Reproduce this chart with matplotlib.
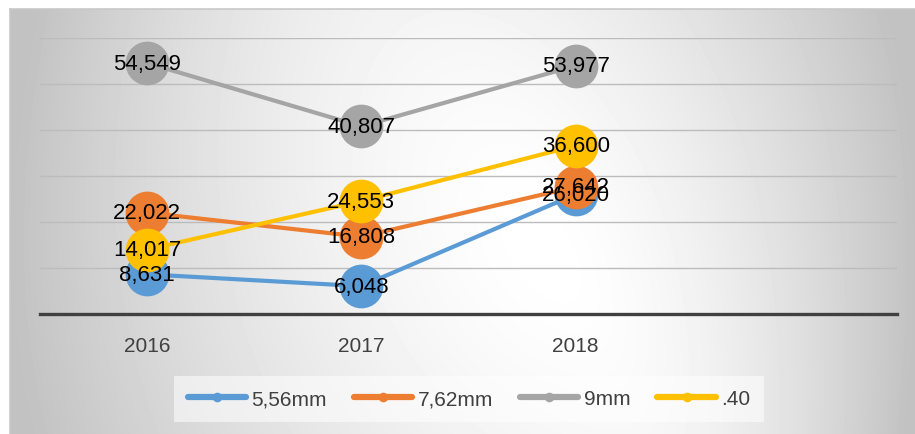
import matplotlib
matplotlib.use("Agg")
import matplotlib.pyplot as plt
import numpy as np

plt.rcParams['font.family'] = ['Liberation Sans', 'DejaVu Sans']

years = ['2016', '2017', '2018', '']
series_names = ['5,56mm', '7,62mm', '9mm', '.40']
v_556 = [8631, 6048, 26020]
v_762 = [22022, 16808, 27642]
v_9mm = [54549, 40807, 53977]
v_40 = [14017, 24553, 36600]
colors = ['#5B9BD5', '#ED7D31', '#A5A5A5', '#FFC000']

W, H = 915, 435
fig = plt.figure(figsize=(W / 100, H / 100), dpi=100)

# background of the chart area (grey at the edges, white band in the middle)
bg = fig.add_axes([10 / W, 0, (W - 10) / W, (H - 10) / H])
xx, yy = np.meshgrid(np.arange(10, W), np.arange(10, H))
cx = 450 + (yy - 10) * 0.4
nx = np.where(xx < cx, (cx - xx) / (cx - 10), (xx - cx) / (W - cx))
ny = (yy - 250) / 700.0
r = np.clip(np.sqrt(nx ** 2 + ny ** 2), 0, 1)
val = 1 - 0.24 * r ** 1.6
bg.imshow(val, cmap='gray', vmin=0, vmax=1, aspect='auto', interpolation='bilinear')
bg.set_xticks([])
bg.set_yticks([])
for s in ['right', 'bottom']:
    bg.spines[s].set_visible(False)
for s in ['top', 'left']:
    bg.spines[s].set_color('#c8c8c8')
    bg.spines[s].set_linewidth(1.2)

ax = fig.add_axes([40 / W, 120 / H, 857 / W, 276 / H])
ax.patch.set_alpha(0)
x = np.arange(len(years))
all_vals = [v_556, v_762, v_9mm, v_40]
for i in range(4):
    vals = all_vals[i]
    ax.plot(x[:len(vals)], vals, color=colors[i], linewidth=3.0, marker='o',
            markersize=31.5, markeredgewidth=0, clip_on=False, zorder=3 + i,
            label=series_names[i], solid_capstyle='round')
for i in range(4):
    vals = all_vals[i]
    for j in range(len(vals)):
        ax.text(x[j], vals[j], '{:,}'.format(vals[j]), ha='center', va='center',
                fontsize=16, color='black', zorder=10)

ax.set_xlim(-0.5, 3.5)
ax.set_ylim(0, 60000)
ax.set_yticks(np.arange(10000, 60001, 10000))
ax.set_yticklabels([])
ax.set_xticks(x)
ax.set_xticklabels(years, fontsize=15, color='#404040')
ax.tick_params(axis='x', length=0, pad=16)
ax.tick_params(axis='y', length=0)
ax.grid(axis='y', color='#bcbcbc', linewidth=1)
ax.set_axisbelow(True)
for s in ['top', 'right', 'left']:
    ax.spines[s].set_visible(False)
ax.spines['bottom'].set_color('#404040')
ax.spines['bottom'].set_linewidth(2.4)
ax.spines['bottom'].set_zorder(2)

handles, labels = ax.get_legend_handles_labels()
leg = fig.legend(handles, labels, loc='center', bbox_to_anchor=(469 / W, 1 - 400 / H),
                 ncol=4, fontsize=15, frameon=True, handlelength=2.8,
                 handletextpad=0.25, columnspacing=1.3, borderpad=0.65,
                 fancybox=False, markerscale=0.22)
leg.get_frame().set_facecolor('white')
leg.get_frame().set_alpha(0.55)
leg.get_frame().set_edgecolor('none')
for t in leg.get_texts():
    t.set_color('#404040')
for h in leg.legend_handles:
    h.set_linewidth(4.5)
    h.set_solid_capstyle('round')

fig.savefig('out.png', dpi=100)
